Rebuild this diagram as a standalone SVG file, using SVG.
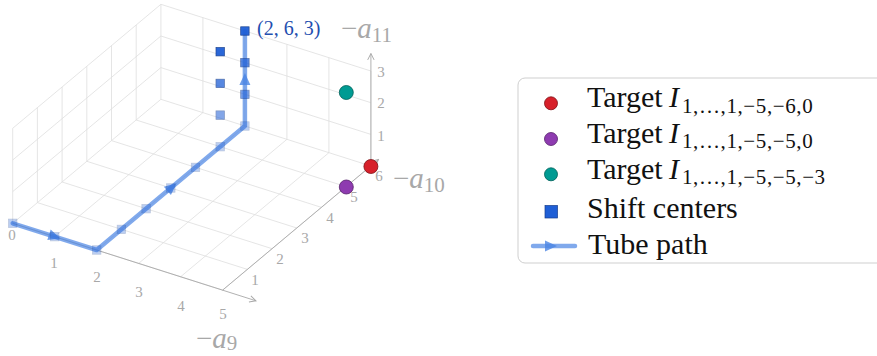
<svg xmlns="http://www.w3.org/2000/svg" width="877" height="356" viewBox="0 0 877 356">
<style>
.grid{stroke:#dedede;stroke-width:0.8;fill:none}
.axis{stroke:#a8a8a8;stroke-width:0.9;fill:none}
.tick{font-family:"Liberation Serif",serif;font-size:15px;fill:#a8a8a8;text-anchor:middle}
.alab{font-family:"Liberation Serif",serif;font-size:29px;fill:#a8a8a8}
.sub{font-size:21px}
.leg{font-family:"Liberation Serif",serif;font-size:30px;fill:#111}
.legsub{font-family:"Liberation Serif",serif;font-size:21px;fill:#111;letter-spacing:0.6px}
.tube{stroke:#4a84e4;stroke-opacity:0.7;stroke-width:4.5;fill:none;stroke-linejoin:round;stroke-linecap:round}
.tarr{fill:#4a84e4;fill-opacity:0.8}
.sq{fill:#1f5fd6;stroke:#143c8c;stroke-width:0.7}
</style>
<defs>
<marker id="ah" viewBox="0 0 10 10" refX="9" refY="5" markerWidth="8" markerHeight="8" markerUnits="userSpaceOnUse" orient="auto">
<path d="M1,1 L9,5 L1,9" fill="none" stroke="#a8a8a8" stroke-width="1.2"/>
</marker>
<path id="arr" d="M6,0 L-6,-5.5 L-6,5.5 Z"/>
<rect id="sqm" x="-4.2" y="-4.2" width="8.4" height="8.4"/>
</defs>

<g id="grid">
<path class="grid" d="M12.7,223.3 L222.7,290.05 M37.4,202.6 L247.4,269.4 M62.1,182 L272.1,248.7 M86.8,161.3 L296.8,228 M111.5,140.6 L321.5,207.4 M136.2,120 L346.2,186.7 M160.9,99.3 L370.9,166"/>
<path class="grid" d="M12.7,223.3 L160.9,99.3 M54.7,236.65 L202.9,112.65 M96.7,250 L244.9,126 M138.7,263.35 L286.9,139.35 M180.7,276.7 L328.9,152.7 M222.7,290.05 L370.9,166.05"/>
<path class="grid" d="M12.7,191.6 L160.9,67.6 M12.7,160 L160.9,36 M12.7,128.3 L160.9,4.3"/>
<path class="grid" d="M12.7,223.3 L12.7,128.3 M37.4,202.6 L37.4,107.6 M62.1,182 L62.1,87 M86.8,161.3 L86.8,66.3 M111.5,140.6 L111.5,45.6 M136.2,120 L136.2,25 M160.9,99.3 L160.9,4.3"/>
<path class="grid" d="M160.9,67.6 L370.9,134.4 M160.9,36 L370.9,102.7 M160.9,4.3 L370.9,71"/>
<path class="grid" d="M202.9,112.65 L202.9,17.65 M244.9,126 L244.9,31 M286.9,139.35 L286.9,44.35 M328.9,152.7 L328.9,57.7 M370.9,166.05 L370.9,71.05"/>
</g>

<g id="axes">
<line class="axis" x1="12.7" y1="223.3" x2="256" y2="300.8" marker-end="url(#ah)"/>
<line class="axis" x1="222.7" y1="290.05" x2="378.5" y2="159.5" marker-end="url(#ah)"/>
<line class="axis" x1="370.9" y1="166.05" x2="370.9" y2="53.5" marker-end="url(#ah)"/>
</g>

<g id="ticks">
<text class="tick" x="12" y="240">0</text>
<text class="tick" x="54" y="268">1</text>
<text class="tick" x="97" y="282">2</text>
<text class="tick" x="139" y="297">3</text>
<text class="tick" x="181" y="311">4</text>
<text class="tick" x="223" y="319">5</text>
<text class="tick" x="255" y="285">1</text>
<text class="tick" x="280" y="264">2</text>
<text class="tick" x="305" y="243">3</text>
<text class="tick" x="330" y="223">4</text>
<text class="tick" x="354" y="202">5</text>
<text class="tick" x="379" y="181">6</text>
<text class="tick" x="381" y="141">1</text>
<text class="tick" x="381" y="108">2</text>
<text class="tick" x="381" y="77">3</text>
</g>

<g id="axis-labels">
<text class="alab" x="196" y="348" font-size="28">−<tspan font-style="italic">a</tspan><tspan class="sub" dy="2">9</tspan></text>
<text class="alab" x="393" y="188">−<tspan font-style="italic">a</tspan><tspan class="sub" dy="4">10</tspan></text>
<text class="alab" x="341" y="38">−<tspan font-style="italic">a</tspan><tspan class="sub" dy="4">11</tspan></text>
</g>

<g id="targets">
<circle cx="346.3" cy="92.5" r="7" fill="#009b93" stroke="#005f58" stroke-width="0.8"/>
<circle cx="346.3" cy="187" r="7" fill="#8e3bb0" stroke="#55206b" stroke-width="0.8"/>
<circle cx="370.9" cy="166.5" r="7" fill="#d7202a" stroke="#7d1016" stroke-width="0.8"/>
</g>

<g id="connectors">
<path class="tube" d="M12.7,223.3 L96.7,250 L244.9,126 L244.9,31"/>
<use href="#arr" class="tarr" transform="translate(54.7,236.65) rotate(17.6)"/>
<use href="#arr" class="tarr" transform="translate(172,187) rotate(-39.9)"/>
<use href="#arr" class="tarr" transform="translate(244.9,79) rotate(-90)"/>
</g>

<g id="shift-centers">
<use href="#sqm" class="sq" opacity="0.3" transform="translate(12.7,223.3)"/>
<use href="#sqm" class="sq" opacity="0.3" transform="translate(54.7,236.65)"/>
<use href="#sqm" class="sq" opacity="0.3" transform="translate(96.7,250)"/>
<use href="#sqm" class="sq" opacity="0.3" transform="translate(121.4,229.4)"/>
<use href="#sqm" class="sq" opacity="0.3" transform="translate(146.1,208.7)"/>
<use href="#sqm" class="sq" opacity="0.3" transform="translate(170.8,188)"/>
<use href="#sqm" class="sq" opacity="0.3" transform="translate(195.5,167.4)"/>
<use href="#sqm" class="sq" opacity="0.3" transform="translate(220.2,146.7)"/>
<use href="#sqm" class="sq" opacity="0.3" transform="translate(244.9,126)"/>
<use href="#sqm" class="sq" opacity="0.55" transform="translate(220.2,115.1)"/>
<use href="#sqm" class="sq" opacity="0.75" transform="translate(220.2,83.4)"/>
<use href="#sqm" class="sq" opacity="0.95" transform="translate(220.2,51.7)"/>
<use href="#sqm" class="sq" opacity="0.6" transform="translate(244.9,94.4)"/>
<use href="#sqm" class="sq" opacity="0.75" transform="translate(244.9,62.7)"/>
<use href="#sqm" class="sq" opacity="0.95" transform="translate(244.9,31)"/>
<text x="257" y="35" font-family="Liberation Serif,serif" font-size="20" fill="#1f4fb0">(2, 6, 3)</text>
</g>

<g id="legend">
<rect x="518" y="78" width="372" height="185" rx="7" fill="#fff" stroke="#cfcfcf" stroke-width="1"/>
<circle cx="551" cy="103.3" r="6.5" fill="#d7202a" stroke="#7d1016" stroke-width="0.8"/>
<circle cx="551" cy="139" r="6.5" fill="#8e3bb0" stroke="#55206b" stroke-width="0.8"/>
<circle cx="551" cy="174.3" r="6.5" fill="#009b93" stroke="#005f58" stroke-width="0.8"/>
<rect x="545" y="205.5" width="12.5" height="12.5" class="sq"/>
<line x1="533" y1="246" x2="575" y2="246" class="tube" stroke-linecap="butt"/>
<use href="#arr" class="tarr" transform="translate(551,246)"/>
<text class="leg" x="587" y="107.3">Target</text>
<text class="leg" x="669" y="107.3" font-style="italic">I</text>
<text class="legsub" x="682" y="112.5">1,…,1,−5,−6,0</text>
<text class="leg" x="587" y="142.8">Target</text>
<text class="leg" x="669" y="142.8" font-style="italic">I</text>
<text class="legsub" x="682" y="148">1,…,1,−5,−5,0</text>
<text class="leg" x="587" y="178.6">Target</text>
<text class="leg" x="669" y="178.6" font-style="italic">I</text>
<text class="legsub" x="682" y="183.8">1,…,1,−5,−5,−3</text>
<text class="leg" x="587" y="218">Shift centers</text>
<text class="leg" x="588" y="253.5">Tube path</text>
</g>
</svg>
